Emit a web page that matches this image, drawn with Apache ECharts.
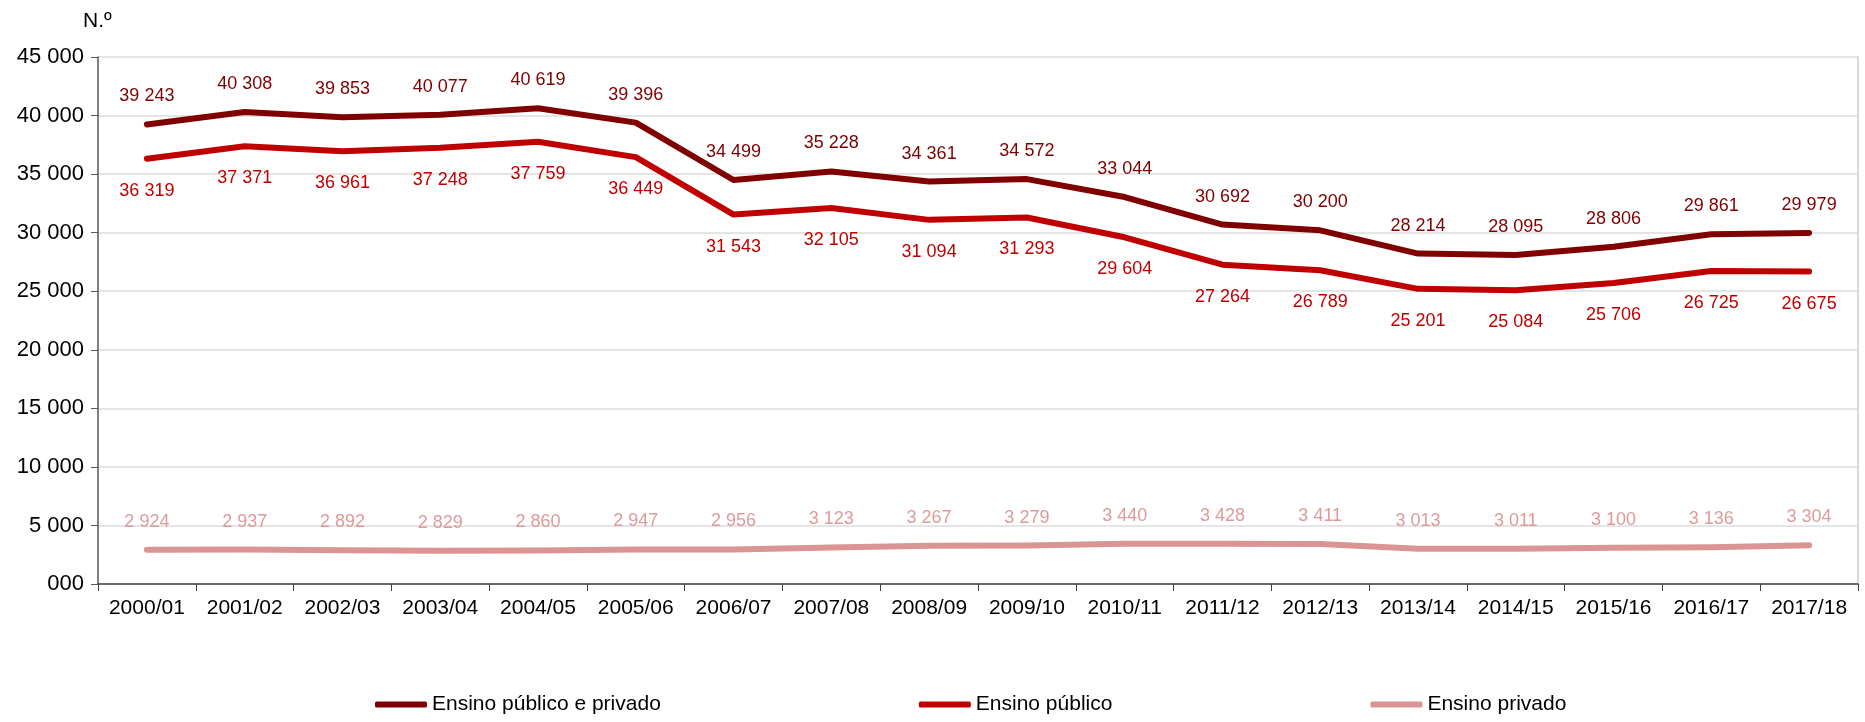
<!DOCTYPE html>
<html>
<head>
<meta charset="utf-8">
<script src="https://cdn.jsdelivr.net/npm/echarts@6/dist/echarts.min.js"></script>
<style>
  html, body { margin: 0; padding: 0; background: #fff; }
  #chart { width: 1865px; height: 722px; }
</style>
</head>
<body>
<div id="chart"></div>
<script>
var years = ['2000/01', '2001/02', '2002/03', '2003/04', '2004/05', '2005/06', '2006/07', '2007/08', '2008/09',
    '2009/10', '2010/11', '2011/12', '2012/13', '2013/14', '2014/15', '2015/16', '2016/17', '2017/18']
var total = [39243, 40308, 39853, 40077, 40619, 39396, 34499, 35228, 34361, 34572, 33044, 30692, 30200, 28214, 28095, 28806, 29861, 29979]
var publico = [36319, 37371, 36961, 37248, 37759, 36449, 31543, 32105, 31094, 31293, 29604, 27264, 26789, 25201, 25084, 25706, 26725, 26675]
var privado = [2924, 2937, 2892, 2829, 2860, 2947, 2956, 3123, 3267, 3279, 3440, 3428, 3411, 3013, 3011, 3100, 3136, 3304]
var seriesNames = ['Ensino público e privado', 'Ensino público', 'Ensino privado']

var fmt = function (v) {
    if (v === 0) return '000'
    return String(v).replace(/\B(?=(\d{3})+(?!\d))/g, ' ')
}
var font = '"Liberation Sans", Arial, sans-serif'

var chart = echarts.init(document.getElementById('chart'))

// tiny symbol hidden under the line, only there to carry the value label
function line(name, data, color, labelColor, pos, dist) {
    return {
        name: name,
        type: 'line',
        data: data,
        symbol: 'circle',
        symbolSize: 2,
        showSymbol: true,
        lineStyle: { color: color, width: 6, cap: 'round', join: 'round' },
        itemStyle: { color: color },
        label: {
            show: true,
            position: pos,
            distance: dist,
            color: labelColor,
            fontFamily: font,
            fontSize: 18,
            formatter: function (p) { return fmt(p.value) }
        },
        labelLayout: { hideOverlap: false }
    }
}

chart.setOption({
    animation: false,
    textStyle: { fontFamily: font },
    title: {
        text: 'N.º',
        left: 78,
        top: 6,
        textStyle: { fontFamily: font, fontSize: 21, fontWeight: 'normal', color: '#000' }
    },
    legend: {
        bottom: 2,
        left: 370,
        itemGap: 258,
        itemWidth: 52,
        itemHeight: 6,
        icon: 'roundRect',
        data: seriesNames,
        textStyle: { fontFamily: font, fontSize: 21, color: '#000' }
    },
    grid: { left: 98, right: 7, top: 57, bottom: 138 },
    xAxis: {
        type: 'category',
        data: years,
        boundaryGap: true,
        axisLine: { lineStyle: { color: '#404040', width: 1.5 } },
        axisTick: { show: true, length: 7, lineStyle: { color: '#404040' } },
        axisLabel: { color: '#000', fontSize: 21, fontFamily: font, margin: 14, interval: 0 }
    },
    yAxis: [{
        type: 'value',
        min: 0,
        max: 45000,
        interval: 5000,
        axisLine: { show: true, lineStyle: { color: '#595959', width: 1.5 } },
        axisTick: { show: true, length: 7, lineStyle: { color: '#595959' } },
        splitLine: { lineStyle: { color: '#dcdcdc', width: 1.5 } },
        axisLabel: { color: '#000', fontSize: 22, fontFamily: font, margin: 14, formatter: fmt }
    }, {
        type: 'value',
        position: 'right',
        min: 0,
        max: 45000,
        interval: 5000,
        axisLine: { show: true, lineStyle: { color: '#d9d9d9', width: 2 } },
        axisTick: { show: false },
        axisLabel: { show: false },
        splitLine: { show: false }
    }],
    series: [
        line(seriesNames[0], total, '#800000', '#7f0000', 'top', 18),
        line(seriesNames[1], publico, '#c00000', '#c00000', 'bottom', 22),
        line(seriesNames[2], privado, '#da9494', '#de9a9a', 'top', 18)
    ]
})
</script>
</body>
</html>
